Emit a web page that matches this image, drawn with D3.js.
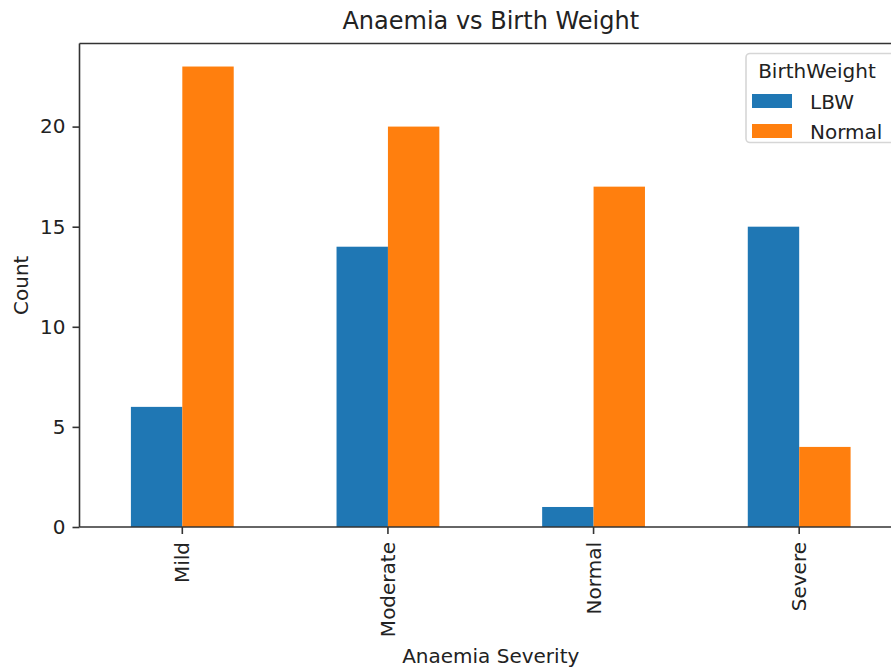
<!DOCTYPE html>
<html><head><meta charset="utf-8">
<script src="https://cdn.jsdelivr.net/npm/d3@7"></script>
<style>body{margin:0;background:#fff}svg{display:block;font-family:"DejaVu Sans",sans-serif}</style>
</head><body><svg id="c" width="891" height="671"></svg>
<script>
const categories = ["Mild", "Moderate", "Normal", "Severe"];
const seriesNames = ["LBW", "Normal"];
const lbwValues = [6, 14, 1, 15];
const normalValues = [23, 20, 17, 4];
const yTicks = [0, 5, 10, 15, 20];
const colors = ["#1f77b4", "#ff7f0e"];
const title = "Anaemia vs Birth Weight";
const xLabel = "Anaemia Severity";
const yLabel = "Count";
const legendTitle = "BirthWeight";

const seriesValues = [lbwValues, normalValues];
const L = 79.5, R = 902, T = 43.5, B = 527;
const svg = d3.select("#c");

const x = d3.scaleBand().domain(categories).range([L, R]).paddingInner(0.5).paddingOuter(0.25);
const xs = d3.scaleBand().domain(seriesNames).range([0, x.bandwidth()]);
const yMax = d3.max(seriesValues.flat()) * 1.05;
const y = d3.scaleLinear().domain([0, yMax]).range([B, T]);

// bars
seriesNames.forEach((s, si) => {
  svg.append("g").selectAll("rect").data(categories).join("rect")
    .attr("x", c => x(c) + xs(s))
    .attr("width", xs.bandwidth())
    .attr("y", (c, i) => y(seriesValues[si][i]))
    .attr("height", (c, i) => y(0) - y(seriesValues[si][i]))
    .attr("fill", colors[si]);
});

// spines
const spine = "#333";
svg.append("line").attr("x1", L).attr("x2", L).attr("y1", T).attr("y2", B).attr("stroke", spine).attr("stroke-width", 1.6);
svg.append("line").attr("x1", L).attr("x2", R).attr("y1", B).attr("y2", B).attr("stroke", spine).attr("stroke-width", 1.6);
svg.append("line").attr("x1", L).attr("x2", R).attr("y1", T).attr("y2", T).attr("stroke", spine).attr("stroke-width", 1.6);
svg.append("line").attr("x1", R).attr("x2", R).attr("y1", T).attr("y2", B).attr("stroke", spine).attr("stroke-width", 1.6);

// y axis
const yAxis = svg.append("g").attr("transform", `translate(${L},0)`)
  .call(d3.axisLeft(y).tickValues(yTicks).tickSize(7).tickPadding(7).tickFormat(d3.format("d")));
yAxis.select(".domain").remove();
yAxis.selectAll(".tick line").attr("stroke", spine).attr("stroke-width", 1.6);
yAxis.selectAll(".tick text").attr("font-size", 20).attr("fill", "#222").attr("font-family", "DejaVu Sans");

// x axis
const xAxis = svg.append("g").attr("transform", `translate(0,${B})`)
  .call(d3.axisBottom(x).tickSize(7).tickPadding(7));
xAxis.select(".domain").remove();
xAxis.selectAll(".tick line").attr("stroke", spine).attr("stroke-width", 1.6);
xAxis.selectAll(".tick text").attr("font-size", 20).attr("fill", "#222").attr("font-family", "DejaVu Sans")
  .attr("transform", "rotate(-90)")
  .attr("text-anchor", "end").attr("dy", "0.35em")
  .attr("x", -15).attr("y", 0);

// titles
svg.append("text").attr("x", (L + R) / 2).attr("y", 29).attr("text-anchor", "middle")
  .attr("font-size", 24).attr("fill", "#222").text(title);
svg.append("text").attr("x", (L + R) / 2).attr("y", 663).attr("text-anchor", "middle")
  .attr("font-size", 20).attr("fill", "#222").text(xLabel);
svg.append("text").attr("transform", `translate(28,${(T + B) / 2}) rotate(-90)`).attr("text-anchor", "middle")
  .attr("font-size", 20).attr("fill", "#222").text(yLabel);

// legend
const lg = svg.append("g");
lg.append("rect").attr("x", 746).attr("y", 53.5).attr("width", 150).attr("height", 89).attr("rx", 4)
  .attr("fill", "#fff").attr("fill-opacity", 0.8).attr("stroke", "#d6d6d6").attr("stroke-width", 1.6);
lg.append("text").attr("x", 817).attr("y", 78).attr("text-anchor", "middle").attr("font-size", 20).attr("fill", "#222").text(legendTitle);
seriesNames.forEach((s, i) => {
  const yy = 94 + i * 30;
  lg.append("rect").attr("x", 752).attr("y", yy).attr("width", 40).attr("height", 14).attr("fill", colors[i]);
  lg.append("text").attr("x", 810).attr("y", yy + 15).attr("font-size", 20).attr("fill", "#222").text(s);
});
</script></body></html>
